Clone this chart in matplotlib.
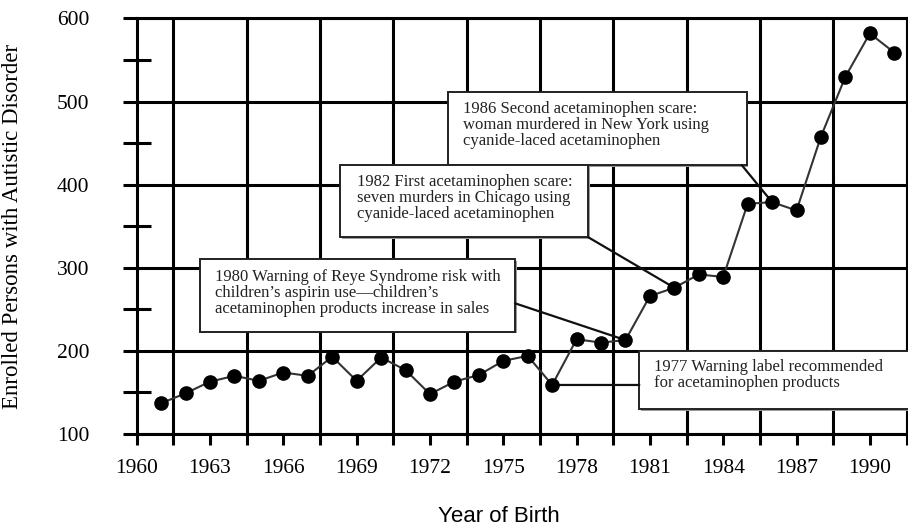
import matplotlib
matplotlib.use("Agg")
import matplotlib.pyplot as plt
from matplotlib.patches import Rectangle
import numpy as np

years = list(range(1961, 1992))
enrolled = [137, 149, 163, 170, 164, 174, 170, 193, 164, 192,
            177, 148, 163, 171, 188, 194, 159, 214, 210, 213,
            266, 276, 292, 289, 377, 379, 369, 458, 530, 582, 559]
x_tick_labels = ["1960", "1963", "1966", "1969", "1972", "1975",
                 "1978", "1981", "1984", "1987", "1990"]
y_tick_labels = ["100", "200", "300", "400", "500", "600"]

notes = [
    {"year": 1986, "text": "1986 Second acetaminophen scare:\nwoman murdered in New York using\ncyanide-laced acetaminophen"},
    {"year": 1982, "text": "1982 First acetaminophen scare:\nseven murders in Chicago using\ncyanide-laced acetaminophen"},
    {"year": 1980, "text": "1980 Warning of Reye Syndrome risk with\nchildren\u2019s aspirin use\u2014children\u2019s\nacetaminophen products increase in sales"},
    {"year": 1977, "text": "1977 Warning label recommended\nfor acetaminophen products"},
]

# layout (axes fraction): box (x0, y0, x1, y1), text (x, y), leader anchor (x, y)
note_layout = [
    dict(box=(0.4044, 0.6474, 0.7924, 0.8231), txt=(0.4241, 0.7439), anchor=(0.7859, 0.6474)),
    dict(box=(0.2641, 0.4734, 0.5867, 0.6474), txt=(0.2858, 0.5685), anchor=(0.5867, 0.4734)),
    dict(box=(0.0822, 0.2462, 0.4914, 0.4212), txt=(0.1017, 0.3389), anchor=(0.4914, 0.3146)),
    dict(box=(0.6529, 0.0594, 1.02, 0.1998), txt=(0.6720, 0.1408), anchor=(0.6529, None)),
]

serif = ["Liberation Serif", "DejaVu Serif"]
fig = plt.figure(figsize=(9.08, 5.27), dpi=100)
ax = fig.add_axes([136.7 / 908, 1 - 434 / 527, (906.5 - 136.7) / 908, (434 - 18.5) / 527])

lw_grid = 2.2
ax.set_xlim(1960, 1991.5)
ax.set_ylim(100, 600)

ax.set_xticks(np.arange(1960, 1991, 3))
ax.set_xticklabels(x_tick_labels, fontsize=15.5, family=serif)
ax.set_xticks(np.arange(1961.5, 1992, 3), minor=True)
ax.set_yticks(np.arange(100, 601, 100))
ax.set_yticklabels(y_tick_labels, fontsize=15.5, family=serif)
ax.set_yticks(np.arange(150, 600, 100), minor=True)

ax.tick_params(axis="x", which="both", direction="out", length=8, width=lw_grid, color="black", pad=10)
ax.tick_params(axis="y", which="major", direction="out", length=10, width=lw_grid, pad=24)
ax.tick_params(axis="y", which="minor", direction="inout", length=20, width=lw_grid)

ax.grid(True, axis="y", which="major", color="black", linewidth=lw_grid, zorder=1)
ax.grid(True, axis="x", which="minor", color="black", linewidth=lw_grid, zorder=1)
ax.set_axisbelow(True)
for s in ax.spines.values():
    s.set_linewidth(lw_grid)
    s.set_color("black")

val = dict(zip(years, enrolled))

# annotation boxes
for note, lay in zip(notes, note_layout):
    x0, y0, x1, y1 = lay["box"]
    shadow = Rectangle((x0 + 0.002, y0 - 0.004), x1 - x0, y1 - y0, transform=ax.transAxes,
                       facecolor="#9a9a9a", edgecolor="none", zorder=3, clip_on=False)
    ax.add_patch(shadow)
    rect = Rectangle((x0, y0), x1 - x0, y1 - y0, transform=ax.transAxes,
                     facecolor="white", edgecolor="#222222", linewidth=1.4, zorder=4, clip_on=False)
    ax.add_patch(rect)
    ax.text(lay["txt"][0], lay["txt"][1], note["text"], transform=ax.transAxes,
            ha="left", va="center", fontsize=12, family=serif, color="#222222",
            linespacing=1.0, zorder=5)
    ax_, ay_ = lay["anchor"]
    if ay_ is None:
        ax.annotate("", xy=(note["year"], val[note["year"]]), xycoords="data",
                    xytext=(ax_, val[note["year"]]), textcoords=("axes fraction", "data"),
                    arrowprops=dict(arrowstyle="-", color="#111111", lw=1.6,
                                    shrinkA=0, shrinkB=0), zorder=4)
    else:
        ax.annotate("", xy=(note["year"], val[note["year"]]), xycoords="data",
                    xytext=(ax_, ay_), textcoords="axes fraction",
                    arrowprops=dict(arrowstyle="-", color="#111111", lw=1.6,
                                    shrinkA=0, shrinkB=0), zorder=4)

ax.plot(years, enrolled, color="#333333", linewidth=1.5, marker="o", markersize=9.5,
        markerfacecolor="black", markeredgecolor="black", zorder=6, clip_on=False)

ax.set_ylabel("Enrolled Persons with Autistic Disorder", fontsize=16.5, family=serif, labelpad=10)
ax.yaxis.set_label_coords(-0.148, 0.5)
fig.text(499 / 908, 1 - 516 / 527, "Year of Birth", ha="center", va="center",
         fontsize=16, family=["Liberation Sans", "DejaVu Sans"])

fig.savefig("out.png", dpi=100)
